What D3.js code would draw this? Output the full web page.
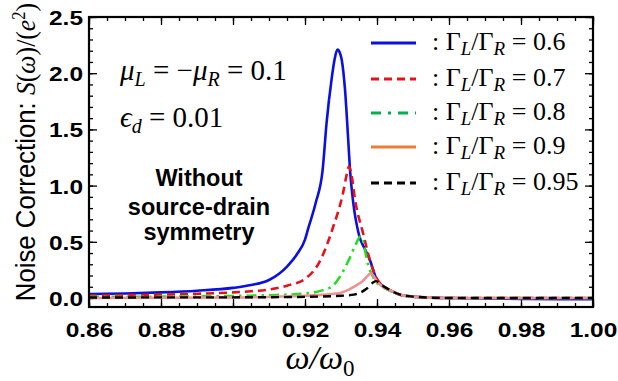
<!DOCTYPE html>
<html><head><meta charset="utf-8">
<script src="https://cdn.jsdelivr.net/npm/d3@7"></script>
<style>body{margin:0;background:#fff}svg{display:block}</style>
</head><body>
<svg id="chart" width="618" height="381"></svg>
<script>
// ---- data ----
const ratioLabels = ["0.6", "0.7", "0.8", "0.9", "0.95"];
const xTickValues = [0.86, 0.88, 0.90, 0.92, 0.94, 0.96, 0.98, 1.00];
const yTickValues = [0.0, 0.5, 1.0, 1.5, 2.0, 2.5];

const blueX = [0.86,0.87,0.88,0.89,0.90,0.905,0.91,0.915,0.918,0.92,0.921,0.923,0.9249,0.926,0.9274,0.9282,0.929,0.9297,0.9302,0.9311,0.932,0.9325,0.9333,0.935,0.9367,0.938,0.94,0.9436,0.9464,0.95,0.955,0.96,0.97,0.98,0.99,1.00];
const blueY = [0.035,0.04,0.05,0.065,0.09,0.115,0.16,0.28,0.40,0.52,0.63,0.85,1.14,1.56,1.95,2.12,2.21,2.18,2.12,1.86,1.41,1.14,0.875,0.56,0.43,0.34,0.16,0.07,0.03,0.012,0.003,0.0,-0.005,-0.008,-0.01,-0.01];

const redX = [0.86,0.87,0.88,0.89,0.90,0.905,0.91,0.915,0.92,0.924,0.9278,0.9306,0.9316,0.9322,0.9329,0.9339,0.9361,0.938,0.94,0.9436,0.9464,0.95,0.96,0.98,1.00];
const redY = [0.022,0.025,0.03,0.038,0.05,0.06,0.075,0.11,0.17,0.32,0.63,0.94,1.10,1.17,1.10,0.875,0.58,0.34,0.17,0.07,0.03,0.012,0.0,0.0,0.0];

const greenX = [0.86,0.88,0.90,0.91,0.92,0.925,0.9278,0.9297,0.9322,0.934,0.9355,0.9364,0.9372,0.9394,0.9415,0.9436,0.9464,0.95,0.96,0.98,1.00];
const greenY = [0.01,0.012,0.018,0.025,0.04,0.07,0.11,0.19,0.34,0.47,0.55,0.47,0.34,0.16,0.10,0.065,0.03,0.012,0.0,0.0,0.0];

const pinkX = [0.86,0.90,0.92,0.9297,0.9336,0.936,0.9375,0.9383,0.939,0.9397,0.942,0.9436,0.9464,0.95,0.96,0.98,1.00];
const pinkY = [0.0,0.005,0.02,0.045,0.10,0.15,0.20,0.22,0.20,0.16,0.09,0.07,0.03,0.012,0.0,0.0,0.0];

const blackX = [0.86,0.90,0.92,0.93,0.9336,0.937,0.939,0.9397,0.9405,0.942,0.9436,0.9464,0.95,0.96,0.98,1.00];
const blackY = [0.005,0.006,0.01,0.02,0.03,0.08,0.14,0.15,0.14,0.10,0.07,0.03,0.012,0.0,0.0,0.0];

// ---- layout ----
const svg = d3.select("#chart");
const L = 89, R = 593, T = 17, B = 307;
const x = d3.scaleLinear().domain([0.86, 1.00]).range([L, R]);
const y = d3.scaleLinear().domain([-0.08, 2.5]).range([B, T]);

svg.append("clipPath").attr("id", "clip").append("rect")
  .attr("x", L).attr("y", T).attr("width", R - L).attr("height", B - T);

const xMinor = d3.range(0.86, 1.0001, 0.005).map(v => +v.toFixed(3));
const yMinor = d3.range(0, 2.5001, 0.1).map(v => +v.toFixed(2));

function tickAxis(axisFn, scale, vals, size, pos, fmt) {
  const a = axisFn(scale).tickValues(vals).tickSizeInner(-size).tickSizeOuter(0);
  a.tickFormat(fmt || (() => ""));
  return svg.append("g").attr("transform", pos).call(a)
    .call(g => g.select(".domain").remove())
    .call(g => g.selectAll(".tick line").attr("stroke", "#000").attr("stroke-width", 1.3));
}
tickAxis(d3.axisBottom, x, xMinor, 4, `translate(0,${B})`);
tickAxis(d3.axisTop, x, xMinor, 4, `translate(0,${T})`);
tickAxis(d3.axisLeft, y, yMinor, 4, `translate(${L},0)`);
tickAxis(d3.axisRight, y, yMinor, 4, `translate(${R},0)`);
tickAxis(d3.axisTop, x, xTickValues, 8, `translate(0,${T})`);
tickAxis(d3.axisRight, y, yTickValues, 8, `translate(${R},0)`);

const xAx = tickAxis(d3.axisBottom, x, xTickValues, 8, `translate(0,${B})`, d3.format(".2f"));
xAx.selectAll(".tick text")
  .attr("y", 0).attr("dy", 0)
  .attr("transform", "translate(0,30) scale(1,0.86)")
  .attr("fill", "#000")
  .style("font-family", "'Liberation Sans', Arial, sans-serif")
  .style("font-weight", "bold").style("font-size", "24.5px");

const yAx = tickAxis(d3.axisLeft, y, yTickValues, 8, `translate(${L},0)`, d3.format(".1f"));
yAx.selectAll(".tick text")
  .attr("x", 0).attr("dy", 0)
  .attr("transform", "translate(-6,7.5) scale(1,0.86)")
  .attr("fill", "#000")
  .attr("text-anchor", "end")
  .style("font-family", "'Liberation Sans', Arial, sans-serif")
  .style("font-weight", "bold").style("font-size", "24.5px");

// ---- series ----
const series = [
  {xs: blueX, ys: blueY, color: "#0a10e0", dash: null, w: 2.6},
  {xs: redX, ys: redY, color: "#e8101a", dash: "8,5", w: 2.6},
  {xs: greenX, ys: greenY, color: "#22dd22", dash: "10,5,2.5,5", w: 2.6},
  {xs: pinkX, ys: pinkY, color: "#f29090", dash: null, w: 2.6},
  {xs: blackX, ys: blackY, color: "#000", dash: "8,5", w: 2.4}
];
const line = d3.line().x(d => x(d[0])).y(d => y(d[1])).curve(d3.curveMonotoneX);
const plotG = svg.append("g").attr("clip-path", "url(#clip)");
series.forEach(s => {
  plotG.append("path")
    .datum(s.xs.map((v, i) => [v, s.ys[i]]))
    .attr("d", line).attr("fill", "none")
    .attr("stroke", s.color).attr("stroke-width", s.w)
    .attr("stroke-dasharray", s.dash);
});

svg.append("rect").attr("x", L).attr("y", T).attr("width", R - L).attr("height", B - T)
  .attr("fill", "none").attr("stroke", "#000").attr("stroke-width", 2.2);

// ---- legend ----
const serif = "'Liberation Serif', 'DejaVu Serif', serif";
const legendColors = ["#0a10e0", "#e8101a", "#00b050", "#ed7d31", "#000"];
const legendDash = [null, "8,5", "10,7,3,7", null, "8,5"];
const legendY = [43, 79, 113, 147, 183];
const leg = svg.append("g");
ratioLabels.forEach((lab, i) => {
  leg.append("line").attr("x1", 371).attr("x2", 416)
    .attr("y1", legendY[i]).attr("y2", legendY[i])
    .attr("stroke", legendColors[i]).attr("stroke-width", 3)
    .attr("stroke-dasharray", legendDash[i]);
  const t = leg.append("text").attr("x", 432).attr("y", legendY[i] + 7)
    .style("font-family", serif)
    .style("font-size", "26px").attr("fill", "#000");
  t.append("tspan").text(": \u0393");
  t.append("tspan").attr("dy", 5).style("font-size", "19px").style("font-style", "italic").text("L");
  t.append("tspan").attr("dy", -5).text("/\u0393");
  t.append("tspan").attr("dy", 5).style("font-size", "19px").style("font-style", "italic").text("R");
  t.append("tspan").attr("dy", -5).text(" = " + lab);
});

// ---- annotations ----
const a1 = svg.append("text").attr("x", 120).attr("y", 80)
  .style("font-family", serif).style("font-size", "29px");
a1.append("tspan").style("font-style", "italic").text("\u03bc");
a1.append("tspan").attr("dy", 6).style("font-size", "20px").style("font-style", "italic").text("L");
a1.append("tspan").attr("dy", -6).text(" = \u2212");
a1.append("tspan").style("font-style", "italic").text("\u03bc");
a1.append("tspan").attr("dy", 6).style("font-size", "20px").style("font-style", "italic").text("R");
a1.append("tspan").attr("dy", -6).text(" = 0.1");

const a2 = svg.append("text").attr("x", 120).attr("y", 127)
  .style("font-family", serif).style("font-size", "29px");
a2.append("tspan").style("font-style", "italic").text("\u03f5");
a2.append("tspan").attr("dy", 6).style("font-size", "20px").style("font-style", "italic").text("d");
a2.append("tspan").attr("dy", -6).text(" = 0.01");

const boldLines = ["Without", "source-drain", "symmetry"];
const boldY = [186, 215, 240];
boldLines.forEach((s, i) => {
  svg.append("text").attr("x", 199).attr("y", boldY[i]).attr("text-anchor", "middle")
    .style("font-family", "'Liberation Sans', Arial, sans-serif")
    .style("font-weight", "bold").style("font-size", "23.5px").text(s);
});

// ---- axis titles ----
const xt = svg.append("text").attr("x", 320).attr("y", 369).attr("text-anchor", "middle")
  .style("font-family", serif).style("font-size", "34px");
xt.append("tspan").style("font-style", "italic").text("\u03c9/\u03c9");
xt.append("tspan").attr("dy", 7).style("font-size", "23px").text("0");

const yt = svg.append("text").attr("text-anchor", "middle")
  .attr("transform", "translate(35,152) rotate(-90) scale(0.92,1)")
  .style("font-size", "28px");
yt.append("tspan").style("font-family", "'Liberation Sans', Arial, sans-serif").text("Noise Correction: ");
yt.append("tspan").style("font-family", serif).style("font-style", "italic").text("S");
yt.append("tspan").style("font-family", serif).text("(");
yt.append("tspan").style("font-family", serif).style("font-style", "italic").text("\u03c9");
yt.append("tspan").style("font-family", serif).text(")/(");
yt.append("tspan").style("font-family", serif).style("font-style", "italic").text("e");
yt.append("tspan").attr("dy", -10).style("font-family", serif).style("font-size", "18px").text("2");
yt.append("tspan").attr("dy", 10).style("font-family", serif).text(")");
</script>
</body></html>
